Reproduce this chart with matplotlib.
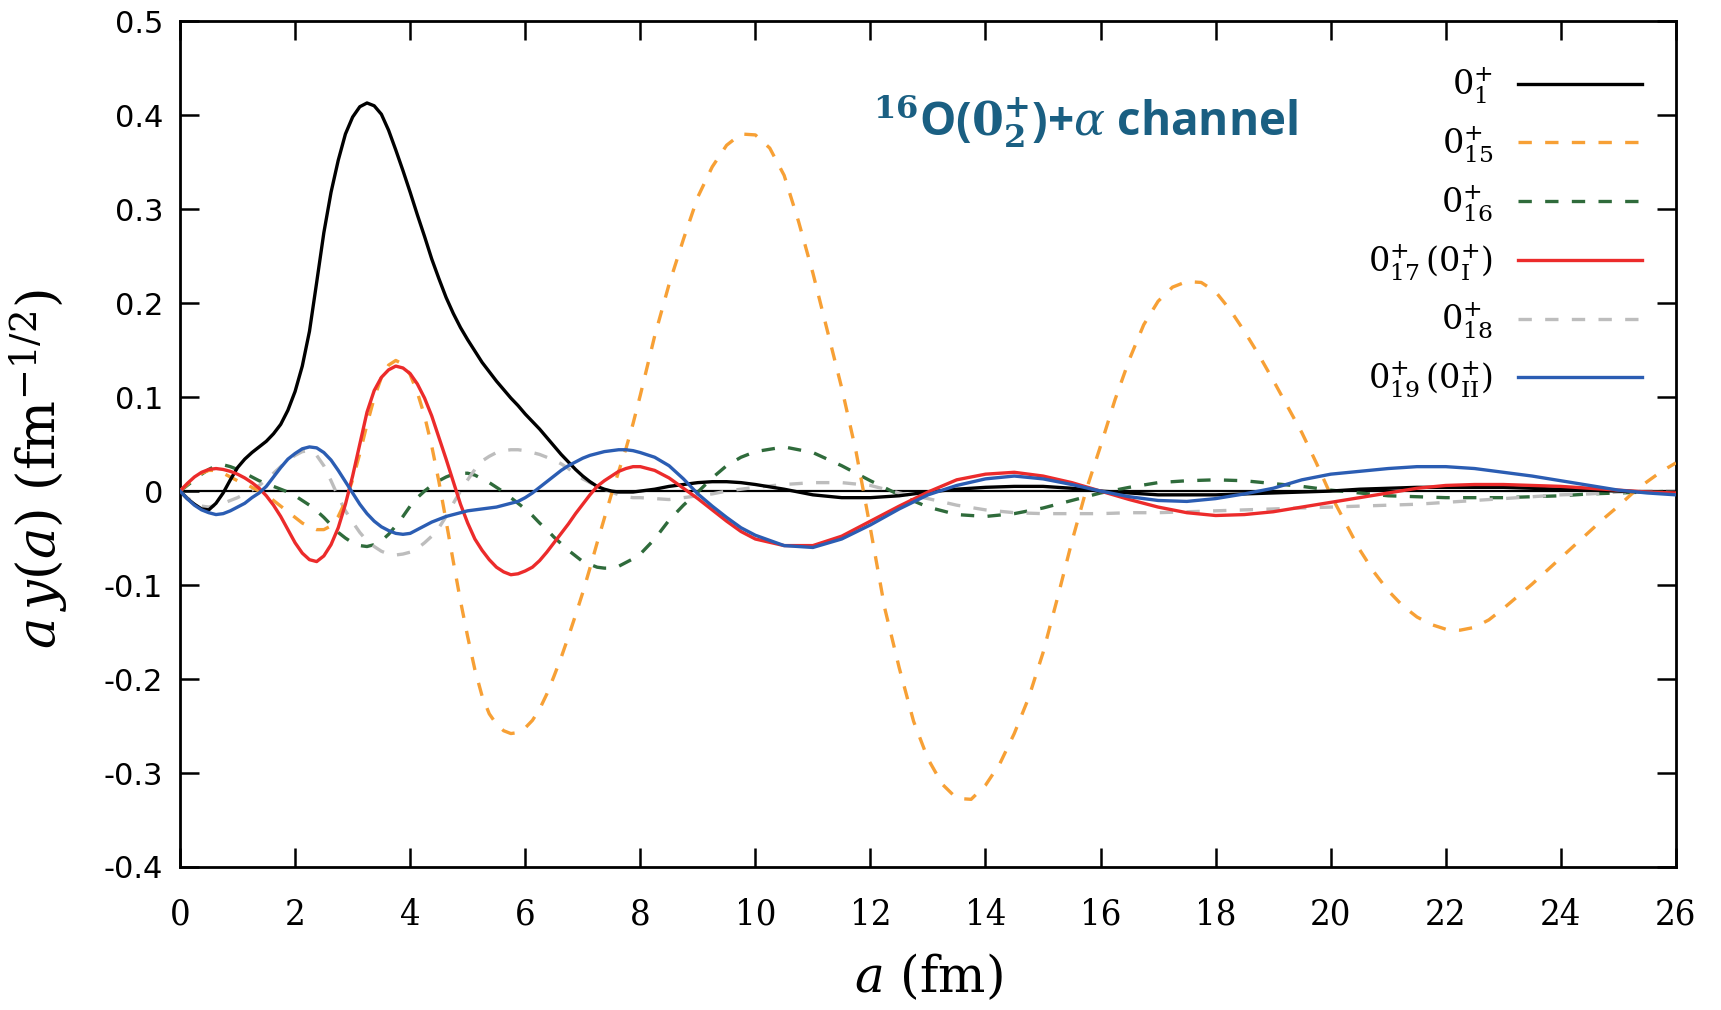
import numpy as np
import matplotlib.pyplot as plt

plt.rcParams['mathtext.fontset'] = 'dejavuserif'

# radial grids (fm): fine near the origin, coarser further out
a = np.concatenate([np.arange(0, 8, 0.125), np.arange(8, 10.01, 0.25),
                    np.arange(10.5, 26.01, 0.5)])
a_15 = np.concatenate([np.arange(0, 8, 0.125), np.arange(8, 26.01, 0.25)])

y_01 = [0, -0.008, -0.014, -0.019, -0.020, -0.013, -0.002, 0.012,
        0.025, 0.034, 0.041, 0.047, 0.053, 0.061, 0.071, 0.086,
        0.106, 0.133, 0.170, 0.222, 0.275, 0.318, 0.352, 0.380,
        0.398, 0.409, 0.413, 0.410, 0.401, 0.384, 0.363, 0.341,
        0.318, 0.294, 0.271, 0.247, 0.226, 0.206, 0.189, 0.174,
        0.161, 0.149, 0.137, 0.127, 0.117, 0.108, 0.099, 0.091,
        0.082, 0.074, 0.066, 0.057, 0.048, 0.039, 0.031, 0.023,
        0.016, 0.010, 0.005, 0.002, 0.000, -0.001, -0.001, -0.001,
        0.000, 0.002, 0.005, 0.007, 0.009, 0.010, 0.010, 0.009, 0.007,
        0.002, -0.004, -0.007, -0.007, -0.005, -0.001, 0.002, 0.004,
        0.005, 0.005, 0.003, 0.000, -0.002, -0.004, -0.004, -0.004,
        -0.003, -0.002, -0.001, 0.000, 0.002, 0.003, 0.004, 0.004,
        0.004, 0.004, 0.003, 0.002, 0.001, 0.000, -0.001, -0.001]

y_015 = [0, 0.007, 0.014, 0.019, 0.022, 0.022, 0.019, 0.015,
         0.011, 0.008, 0.004, 0.000, -0.004, -0.010, -0.016, -0.022,
         -0.028, -0.034, -0.038, -0.041, -0.041, -0.037, -0.027, -0.011,
         0.012, 0.040, 0.071, 0.099, 0.121, 0.134, 0.139, 0.135,
         0.124, 0.105, 0.080, 0.048, 0.010, -0.032, -0.075, -0.117,
         -0.155, -0.190, -0.218, -0.237, -0.248, -0.255, -0.258, -0.257,
         -0.252, -0.244, -0.232, -0.216, -0.197, -0.177, -0.155, -0.132,
         -0.108, -0.082, -0.055, -0.029, -0.003, 0.021, 0.045, 0.072,
         0.102, 0.165, 0.220, 0.268, 0.313, 0.345, 0.368, 0.380, 0.379,
         0.365, 0.336, 0.287, 0.232, 0.171, 0.110, 0.042, -0.040,
         -0.125, -0.188, -0.245, -0.285, -0.312, -0.327, -0.328, -0.313,
         -0.290, -0.258, -0.220, -0.172, -0.114, -0.054, 0.001, 0.048,
         0.097, 0.140, 0.177, 0.202, 0.217, 0.223, 0.222, 0.212,
         0.193, 0.170, 0.145, 0.118, 0.090, 0.062, 0.030, -0.004,
         -0.033, -0.062, -0.086, -0.106, -0.122, -0.134, -0.142, -0.147,
         -0.148, -0.145, -0.137, -0.125, -0.112, -0.099, -0.085, -0.071,
         -0.057, -0.043, -0.029, -0.016, -0.002, 0.010, 0.021, 0.030]

y_016 = [0, 0.006, 0.012, 0.018, 0.023, 0.027, 0.028, 0.026,
         0.023, 0.019, 0.015, 0.011, 0.008, 0.005, 0.002, -0.001,
         -0.005, -0.010, -0.015, -0.021, -0.028, -0.036, -0.044, -0.050,
         -0.055, -0.058, -0.059, -0.057, -0.053, -0.046, -0.037, -0.027,
         -0.016, -0.007, 0.000, 0.006, 0.011, 0.015, 0.018, 0.019,
         0.019, 0.017, 0.013, 0.009, 0.004, -0.001, -0.007, -0.013,
         -0.019, -0.026, -0.034, -0.041, -0.049, -0.056, -0.063, -0.069,
         -0.075, -0.078, -0.081, -0.082, -0.082, -0.080, -0.076, -0.072,
         -0.067, -0.051, -0.031, -0.015, -0.001, 0.014, 0.027, 0.036, 0.042,
         0.047, 0.041, 0.027, 0.011, -0.004, -0.017, -0.025, -0.027,
         -0.024, -0.018, -0.010, -0.002, 0.004, 0.009, 0.011, 0.012,
         0.011, 0.008, 0.005, 0.001, -0.002, -0.005, -0.006, -0.007,
         -0.007, -0.007, -0.006, -0.005, -0.003, -0.002, -0.001, 0.000]

y_017 = [0, 0.008, 0.015, 0.020, 0.023, 0.024, 0.023, 0.021,
         0.018, 0.014, 0.009, 0.003, -0.005, -0.015, -0.027, -0.041,
         -0.055, -0.066, -0.073, -0.075, -0.069, -0.057, -0.039, -0.014,
         0.016, 0.050, 0.084, 0.107, 0.121, 0.129, 0.133, 0.131,
         0.125, 0.114, 0.099, 0.080, 0.057, 0.034, 0.010, -0.014,
         -0.034, -0.051, -0.063, -0.073, -0.081, -0.086, -0.089, -0.088,
         -0.085, -0.081, -0.074, -0.065, -0.055, -0.045, -0.035, -0.024,
         -0.014, -0.004, 0.005, 0.011, 0.016, 0.021, 0.024, 0.026,
         0.026, 0.022, 0.014, 0.003, -0.008, -0.020, -0.032, -0.043, -0.051,
         -0.058, -0.058, -0.048, -0.032, -0.016, -0.001, 0.012, 0.018,
         0.020, 0.016, 0.009, 0.000, -0.009, -0.017, -0.023, -0.026,
         -0.025, -0.022, -0.017, -0.012, -0.007, -0.002, 0.003, 0.006,
         0.007, 0.007, 0.006, 0.005, 0.003, 0.001, -0.001, -0.002]

y_018 = [0, -0.007, -0.012, -0.016, -0.017, -0.015, -0.013, -0.010,
         -0.007, -0.003, 0.001, 0.006, 0.012, 0.019, 0.026, 0.033,
         0.038, 0.042, 0.043, 0.038, 0.027, 0.011, -0.006, -0.021,
         -0.033, -0.044, -0.053, -0.059, -0.064, -0.067, -0.068, -0.067,
         -0.065, -0.061, -0.055, -0.048, -0.039, -0.027, -0.013, 0.000,
         0.012, 0.023, 0.032, 0.037, 0.041, 0.043, 0.044, 0.044,
         0.043, 0.041, 0.039, 0.036, 0.033, 0.029, 0.024, 0.018,
         0.013, 0.009, 0.005, 0.002, -0.001, -0.004, -0.006, -0.007,
         -0.007, -0.008, -0.009, -0.007, -0.005, -0.003, 0.000, 0.002, 0.004,
         0.007, 0.009, 0.009, 0.006, -0.002, -0.008, -0.015, -0.020,
         -0.023, -0.024, -0.024, -0.024, -0.023, -0.023, -0.022, -0.021,
         -0.020, -0.019, -0.018, -0.017, -0.016, -0.015, -0.014, -0.012,
         -0.010, -0.008, -0.006, -0.004, -0.003, -0.001, 0.000, 0.000]

y_019 = [0, -0.008, -0.015, -0.020, -0.023, -0.025, -0.024, -0.021,
         -0.017, -0.013, -0.007, -0.002, 0.005, 0.015, 0.025, 0.034,
         0.040, 0.045, 0.047, 0.046, 0.041, 0.033, 0.022, 0.010,
         -0.002, -0.014, -0.024, -0.032, -0.038, -0.042, -0.045, -0.046,
         -0.045, -0.041, -0.037, -0.033, -0.030, -0.027, -0.025, -0.023,
         -0.021, -0.020, -0.019, -0.018, -0.017, -0.015, -0.013, -0.011,
         -0.007, -0.002, 0.004, 0.010, 0.016, 0.022, 0.027, 0.031,
         0.035, 0.038, 0.040, 0.042, 0.043, 0.044, 0.044, 0.043,
         0.041, 0.036, 0.027, 0.013, -0.003, -0.016, -0.028, -0.039, -0.047,
         -0.058, -0.060, -0.051, -0.036, -0.019, -0.004, 0.006, 0.013,
         0.016, 0.013, 0.007, 0.000, -0.006, -0.010, -0.011, -0.008,
         -0.003, 0.003, 0.012, 0.018, 0.021, 0.024, 0.026, 0.026,
         0.024, 0.020, 0.016, 0.011, 0.006, 0.001, -0.002, -0.004]

labels = [r'$0_{1}^{+}$', r'$0_{15}^{+}$', r'$0_{16}^{+}$',
          r'$0_{17}^{+}\,(0_{\mathrm{I}}^{+})$', r'$0_{18}^{+}$',
          r'$0_{19}^{+}\,(0_{\mathrm{II}}^{+})$']

fig = plt.figure(figsize=(17.21, 10.10), dpi=100)
ax = fig.add_axes([0.1046, 0.1416, 0.8692, 0.8374])

ax.axhline(0, color='black', lw=1.6, zorder=1)

ax.plot(a, y_01, color='black', lw=2.4, label=labels[0], zorder=4)
ax.plot(a_15, y_015, color='#f7a035', lw=2.4, ls=(0, (4, 4)), label=labels[1], zorder=3)
ax.plot(a, y_016, color='#2f6b3b', lw=2.4, ls=(0, (4, 4)), label=labels[2], zorder=2)
ax.plot(a, y_017, color='#ec2b2b', lw=2.4, label=labels[3], zorder=5)
ax.plot(a, y_018, color='#bdbdbd', lw=2.4, ls=(0, (4, 4)), label=labels[4], zorder=2)
ax.plot(a, y_019, color='#2b5db3', lw=2.4, label=labels[5], zorder=6)

ax.set_xlim(0, 26)
ax.set_ylim(-0.4, 0.5)
ax.set_xticks(np.arange(0, 27, 2))
ax.set_yticks(np.arange(-0.4, 0.51, 0.1))
ax.set_yticklabels(['-0.4', '-0.3', '-0.2', '-0.1', '0', '0.1', '0.2', '0.3', '0.4', '0.5'])

for s in ax.spines.values():
    s.set_linewidth(2)

ax.tick_params(axis='both', direction='in', length=14, width=1.8,
               top=True, right=True)
ax.tick_params(axis='y', labelsize=22, pad=12)
ax.tick_params(axis='x', labelsize=26, pad=22)
for t in ax.get_xticklabels():
    t.set_family(['DejaVu Serif Condensed', 'Liberation Sans Narrow', 'DejaVu Serif'])
    t.set_fontstretch('condensed')

ax.set_xlabel(r'$a\ (\mathrm{fm})$', fontsize=36, labelpad=14)
ax.set_ylabel(r'$a\,y(a)\ (\mathrm{fm}^{-1/2})$', fontsize=38)
ax.yaxis.set_label_coords(-0.073, 0.47)

ax.text(0.463, 0.882,
        r'$^{\mathbf{16}}$O($\mathbf{0}_{\mathbf{2}}^{\mathbf{+}}$)+$\alpha$ channel',
        transform=ax.transAxes, fontsize=33, fontweight='bold',
        family=['Open Sans', 'DejaVu Sans'], color='#1a5f82', va='center', ha='left')

ax.legend(loc='upper right', bbox_to_anchor=(0.977, 0.947), frameon=False,
          markerfirst=False, fontsize=24, handlelength=3.7, handletextpad=0.75,
          labelspacing=0.55, borderpad=0, borderaxespad=0)

fig.savefig('out.png', dpi=100)
